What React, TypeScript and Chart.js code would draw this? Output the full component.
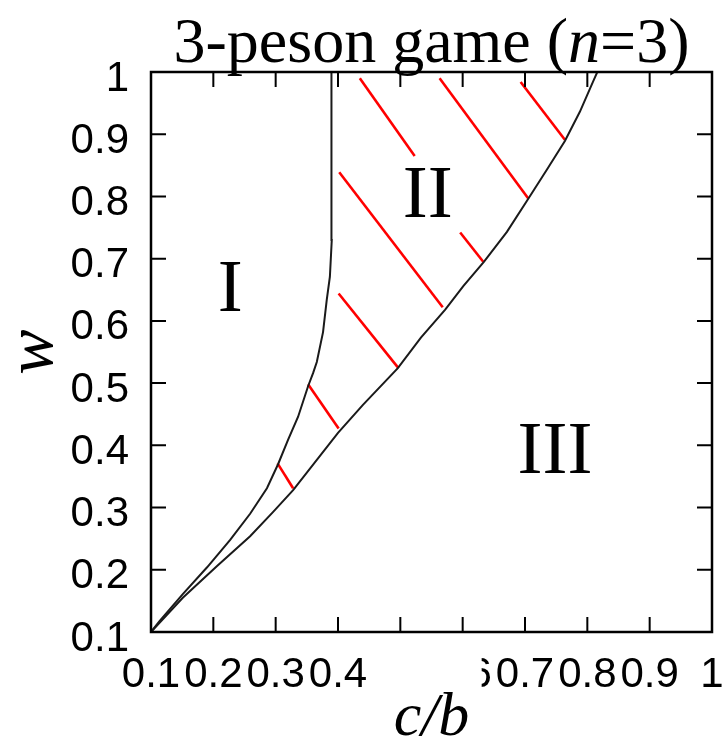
import React, { useEffect, useRef } from "react";
import { Chart, registerables } from "chart.js";

Chart.register(...registerables);

// Tick positions shared by both axes, and their printed labels
const axisTicks = [0.1, 0.2, 0.3, 0.4, 0.5, 0.6, 0.7, 0.8, 0.9, 1];
const xTickLabels = ["0.1", "0.2", "0.3", "0.4", "0.5", "0.6", "0.7", "0.8", "0.9", "1"];
const yTickLabels = ["0.1", "0.2", "0.3", "0.4", "0.5", "0.6", "0.7", "0.8", "0.9", "1"];

// Boundary between region I and region II (c/b, w)
const boundaryOneX = [0.1, 0.114, 0.151, 0.19, 0.227, 0.259, 0.286, 0.304, 0.32, 0.336, 0.352, 0.36, 0.366, 0.376, 0.382, 0.387, 0.39, 0.39, 0.389];
const boundaryOneW = [0.1, 0.118, 0.161, 0.204, 0.248, 0.29, 0.331, 0.37, 0.409, 0.446, 0.495, 0.516, 0.534, 0.582, 0.634, 0.671, 0.73, 0.891, 1.0];

// Boundary between region II and region III (c/b, w)
const boundaryTwoX = [0.1, 0.151, 0.206, 0.259, 0.296, 0.328, 0.4, 0.44, 0.496, 0.533, 0.572, 0.601, 0.634, 0.671, 0.705, 0.735, 0.764, 0.788, 0.809, 0.816];
const boundaryTwoW = [0.1, 0.155, 0.206, 0.254, 0.293, 0.328, 0.42, 0.465, 0.524, 0.573, 0.618, 0.656, 0.695, 0.743, 0.796, 0.843, 0.889, 0.936, 0.984, 1.0];

// Hatching strokes across region II
const hatchStartX = [0.435, 0.563, 0.693, 0.402, 0.596, 0.401, 0.352, 0.303];
const hatchStartW = [0.99, 0.99, 0.984, 0.839, 0.742, 0.644, 0.498, 0.371];
const hatchEndX = [0.523, 0.705, 0.764, 0.568, 0.633, 0.497, 0.401, 0.328];
const hatchEndW = [0.865, 0.797, 0.891, 0.622, 0.695, 0.524, 0.427, 0.331];

// Region names and where they sit
const regionNames = ["I", "II", "III"];
const regionX = [0.227, 0.544, 0.748];
const regionW = [0.647, 0.798, 0.388];

const SERIF = '"Liberation Serif", "Times New Roman", serif';
const SANS = '"Liberation Sans", Arial, sans-serif';

// keep the plot box fixed: no extra room reserved for overhanging labels
const noOverhang = (s: any) => {
  s.paddingLeft = 0;
  s.paddingRight = 0;
  s.paddingTop = 0;
  s.paddingBottom = 0;
};

const framePlugin = {
  id: "frame",
  afterDatasetsDraw(chart: any) {
    const { ctx, chartArea: a, scales } = chart;
    const xs = scales.x;
    const ys = scales.y;
    const midX = (a.left + a.right) / 2;
    ctx.save();

    // blank block over the middle of the x tick row
    ctx.fillStyle = "#ffffff";
    const m0 = xs.getPixelForValue(0.4) + 31;
    const m1 = xs.getPixelForValue(0.6) + 19;
    ctx.fillRect(m0, a.bottom + 4, m1 - m0, 66);

    // x axis name, italic c/b
    ctx.fillStyle = "#000000";
    ctx.font = `italic 62px ${SERIF}`;
    ctx.textAlign = "center";
    ctx.textBaseline = "alphabetic";
    ctx.fillText("c/b", midX, 735);

    // frame
    ctx.strokeStyle = "#000000";
    ctx.lineWidth = 2.5;
    ctx.strokeRect(a.left, a.top, a.right - a.left, a.bottom - a.top);

    // inward tick marks on all four sides
    ctx.lineWidth = 2;
    const len = 15;
    ctx.beginPath();
    axisTicks.forEach((v) => {
      const px = xs.getPixelForValue(v);
      ctx.moveTo(px, a.bottom);
      ctx.lineTo(px, a.bottom - len);
      ctx.moveTo(px, a.top);
      ctx.lineTo(px, a.top + len);
      const py = ys.getPixelForValue(v);
      ctx.moveTo(a.left, py);
      ctx.lineTo(a.left + len, py);
      ctx.moveTo(a.right, py);
      ctx.lineTo(a.right - len, py);
    });
    ctx.stroke();

    // region names
    ctx.font = `75px ${SERIF}`;
    ctx.textAlign = "center";
    ctx.textBaseline = "middle";
    regionNames.forEach((name, i) => {
      ctx.fillText(name, xs.getPixelForValue(regionX[i]), ys.getPixelForValue(regionW[i]));
    });

    // heading with an italic n
    const parts = [
      { t: "3-peson game (", f: `64px ${SERIF}` },
      { t: "n", f: `italic 64px ${SERIF}` },
      { t: "=3)", f: `64px ${SERIF}` },
    ];
    let total = 0;
    const widths = parts.map((p) => {
      ctx.font = p.f;
      const w = ctx.measureText(p.t).width;
      total += w;
      return w;
    });
    let tx = midX - total / 2;
    ctx.textAlign = "left";
    ctx.textBaseline = "alphabetic";
    parts.forEach((p, i) => {
      ctx.font = p.f;
      ctx.fillText(p.t, tx, 62);
      tx += widths[i];
    });

    ctx.restore();
  },
};

export default function App() {
  const canvasRef = useRef<HTMLCanvasElement | null>(null);

  useEffect(() => {
    if (!canvasRef.current) return;
    const pts = (xv: number[], wv: number[]) => xv.map((v, i) => ({ x: v, y: wv[i] }));
    const datasets: any[] = [
      { data: pts(boundaryOneX, boundaryOneW), borderColor: "#1a1a1a", borderWidth: 2 },
      { data: pts(boundaryTwoX, boundaryTwoW), borderColor: "#1a1a1a", borderWidth: 2 },
      ...hatchStartX.map((_, i) => ({
        data: [
          { x: hatchStartX[i], y: hatchStartW[i] },
          { x: hatchEndX[i], y: hatchEndW[i] },
        ],
        borderColor: "#ff0000",
        borderWidth: 2.6,
      })),
    ].map((d) => ({ ...d, showLine: true, pointRadius: 0, fill: false, tension: 0 }));

    const chart = new Chart(canvasRef.current, {
      type: "scatter",
      data: { datasets },
      options: {
        responsive: false,
        animation: false,
        events: [],
        layout: { padding: { top: 72, right: 16, bottom: 0, left: 0 } },
        plugins: {
          legend: { display: false },
          tooltip: { enabled: false },
          title: { display: false },
        },
        scales: {
          x: {
            type: "linear",
            min: 0.1,
            max: 1,
            afterBuildTicks: (s: any) => {
              s.ticks = axisTicks.map((v) => ({ value: v }));
            },
            afterFit: (s: any) => {
              s.height = 107;
              noOverhang(s);
            },
            grid: { display: false, drawTicks: false },
            border: { display: false },
            ticks: {
              autoSkip: false,
              maxRotation: 0,
              minRotation: 0,
              padding: 18,
              color: "#000000",
              font: { family: SANS, size: 42 },
              callback: (_v: any, i: number) => xTickLabels[i],
            },
            title: { display: false },
          },
          y: {
            type: "linear",
            min: 0.1,
            max: 1,
            afterBuildTicks: (s: any) => {
              s.ticks = axisTicks.map((v) => ({ value: v }));
            },
            afterFit: (s: any) => {
              s.width = 151;
              noOverhang(s);
            },
            grid: { display: false, drawTicks: false },
            border: { display: false },
            ticks: {
              autoSkip: false,
              padding: 22,
              labelOffset: 7,
              color: "#000000",
              font: { family: SANS, size: 42 },
              callback: (_v: any, i: number) => yTickLabels[i],
            },
            title: {
              display: true,
              text: "w",
              color: "#000000",
              font: { family: SERIF, size: 68, style: "italic", lineHeight: 1 },
              padding: 0,
            },
          },
        },
      },
      plugins: [framePlugin],
    } as any);

    return () => chart.destroy();
  }, []);

  return (
    <div style={{ position: "absolute", left: 0, top: 0, width: 728, height: 739, background: "#ffffff" }}>
      <canvas ref={canvasRef} width={728} height={739} style={{ display: "block" }} />
    </div>
  );
}
